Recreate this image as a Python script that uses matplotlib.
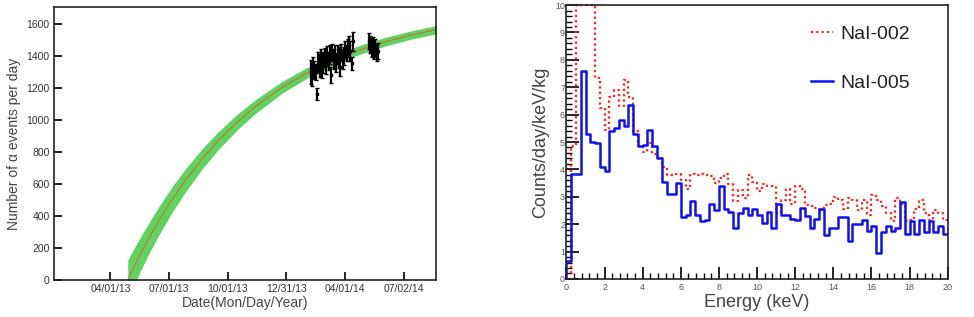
##
## === DEPENDENCIES
##

import matplotlib
matplotlib.use("Agg")
import matplotlib.pyplot as plt
import numpy
from matplotlib.ticker import MultipleLocator

##
## === DATA
##

## left panel: growth curve (days after start date) with its uncertainty band
CURVE_START = numpy.datetime64("2013-04-28")
CURVE_DAYS = [0, 10, 20, 35, 50, 70, 90, 115, 140, 170, 200, 240, 280, 320, 360, 400, 440, 482]
CURVE_VALUES = [0, 84, 164, 276, 380, 508, 623, 752, 866, 985, 1087, 1202, 1296, 1373, 1436, 1487, 1529, 1565]
BAND_HALF_WIDTH = [125, 115, 105, 95, 88, 80, 72, 63, 56, 49, 43, 37, 33, 30, 28, 27, 26, 26]

## left panel: measured alpha rates
POINT_DATES = [
    "2014-02-07", "2014-02-09", "2014-02-11", "2014-02-13", "2014-02-15", "2014-02-17",
    "2014-02-19", "2014-02-21", "2014-02-23", "2014-02-25", "2014-02-27", "2014-03-01",
    "2014-03-03", "2014-03-05", "2014-03-07", "2014-03-09", "2014-03-11", "2014-03-13",
    "2014-03-15", "2014-03-17", "2014-03-19", "2014-03-21", "2014-03-23", "2014-03-25",
    "2014-03-27", "2014-03-29", "2014-03-31", "2014-04-02", "2014-04-04", "2014-04-06",
    "2014-04-08", "2014-04-10", "2014-04-12", "2014-04-14",
    "2014-05-09", "2014-05-11", "2014-05-13", "2014-05-15", "2014-05-17", "2014-05-19",
    "2014-05-21", "2014-05-23",
]
POINT_VALUES = [
    1300, 1280, 1330, 1310, 1300, 1160, 1360, 1340, 1380, 1320, 1360, 1390,
    1340, 1400, 1370, 1410, 1280, 1420, 1380, 1400, 1360, 1410, 1390, 1330,
    1420, 1380, 1400, 1440, 1420, 1450, 1470, 1430, 1355, 1490,
    1490, 1470, 1450, 1460, 1440, 1450, 1420, 1430,
]
POINT_ERRORS = [
    75, 65, 60, 55, 50, 38, 65, 70, 60, 55, 65, 60,
    55, 60, 55, 60, 50, 55, 60, 65, 60, 60, 65, 55,
    55, 60, 55, 55, 50, 55, 55, 60, 40, 60,
    50, 55, 60, 55, 60, 55, 55, 50,
]
DATE_TICKS = ["2013-04-01", "2013-07-01", "2013-10-01", "2013-12-31", "2014-04-01", "2014-07-02"]
DATE_LABELS = ["04/01/13", "07/01/13", "10/01/13", "12/31/13", "04/01/14", "07/02/14"]

## right panel: energy spectra, 0.25 keV bins from 0 to 20 keV
NAI_002 = [
    0.2, 4.85, 13.0, 14.0, 12.5, 11.5, 7.35, 6.25, 5.45, 6.65,
    6.9, 6.3, 7.25, 6.65, 5.4, 4.85, 4.65, 4.95, 4.55, 4.45,
    4.1, 3.8, 3.8, 3.85, 3.6, 3.3, 3.85, 3.8, 3.85, 3.8,
    3.75, 3.5, 3.7, 3.85, 3.45, 2.85, 3.25, 2.95, 3.8, 3.55,
    3.2, 3.45, 3.4, 3.38, 2.4, 2.9, 3.3, 2.75, 3.38, 3.3,
    2.7, 2.65, 2.6, 2.55, 2.7, 2.75, 3.0, 2.9, 2.55, 2.95,
    2.9, 2.5, 2.9, 2.35, 3.05, 2.9, 2.65, 2.4, 2.1, 2.95,
    2.75, 2.1, 2.15, 2.55, 2.9, 2.4, 2.15, 2.5, 2.4, 2.15,
]
NAI_005 = [
    0.65, 3.85, 3.85, 7.6, 5.3, 5.0, 4.95, 4.1, 3.95, 5.4,
    5.5, 5.8, 5.6, 6.35, 5.3, 4.85, 4.9, 5.45, 4.85, 4.4,
    3.55, 3.1, 3.1, 3.5, 2.25, 2.35, 2.85, 2.35, 2.1, 2.15,
    2.75, 2.5, 3.4, 2.55, 2.45, 1.85, 2.4, 2.6, 2.35, 2.55,
    2.35, 2.05, 2.45, 1.85, 2.75, 2.35, 2.35, 2.2, 2.15, 2.6,
    2.3, 1.85, 2.2, 2.55, 1.6, 1.85, 1.85, 2.25, 2.25, 1.4,
    2.0, 2.0, 2.15, 1.75, 1.95, 0.95, 1.7, 1.95, 1.75, 1.85,
    2.8, 1.65, 2.1, 1.65, 2.15, 1.7, 2.1, 1.7, 1.95, 1.65,
]
E_MIN, E_MAX, E_BIN = 0.0, 20.0, 0.25

##
## === STYLE
##

FONT = ["Liberation Sans", "DejaVu Sans"]
TEXT_GREY = "#333333"


def style_frame(ax) -> None:
    for spine in ax.spines.values():
        spine.set_linewidth(1.2)
        spine.set_color("#222222")


##
## === MAIN
##


def main() -> None:
    plt.rcParams["font.family"] = FONT
    fig = plt.figure(figsize=(9.74, 3.17), dpi=100)

    ## ---- left panel
    ax1 = fig.add_axes([0.0554, 0.1167, 0.392, 0.861])
    curve_dates = CURVE_START + numpy.array(CURVE_DAYS).astype("timedelta64[D]")
    curve = numpy.array(CURVE_VALUES, dtype=float)
    half = numpy.array(BAND_HALF_WIDTH, dtype=float)
    ax1.fill_between(curve_dates, curve - half, curve + half, color="#5fd35f", lw=0, zorder=1)
    ax1.plot(curve_dates, curve, color="#c8743c", lw=0.9, zorder=2)
    ax1.errorbar(
        numpy.array(POINT_DATES, dtype="datetime64[D]"),
        POINT_VALUES,
        yerr=POINT_ERRORS,
        fmt="s",
        ms=1.6,
        color="black",
        elinewidth=1.6,
        capsize=1.2,
        capthick=1.0,
        zorder=3,
    )
    ax1.set_xlim(numpy.datetime64("2013-01-03"), numpy.datetime64("2014-08-21"))
    ax1.set_ylim(0, 1705)
    ax1.set_xticks(numpy.array(DATE_TICKS, dtype="datetime64[D]"))
    ax1.set_xticklabels(DATE_LABELS)
    ax1.yaxis.set_major_locator(MultipleLocator(200))
    ax1.tick_params(direction="in", length=6, width=1.2, labelsize=7.5,
                    labelcolor=TEXT_GREY, pad=3)
    ax1.set_xlabel("Date(Mon/Day/Year)", fontsize=10, color="#444444", labelpad=1)
    ax1.set_ylabel("Number of \u03b1 events per day", fontsize=10, color="#444444", labelpad=4)
    style_frame(ax1)

    ## ---- right panel
    ax2 = fig.add_axes([0.5816, 0.12, 0.3914, 0.864])
    edges = numpy.arange(E_MIN, E_MAX + E_BIN / 2, E_BIN)
    y_top = 10.0
    red = numpy.minimum(numpy.array(NAI_002), y_top)
    blue = numpy.array(NAI_005)
    ax2.step(numpy.r_[edges[0], edges], numpy.r_[0, red, red[-1]], where="post",
             color="#ff2020", lw=1.6, ls=(0, (1, 1.4)), label="NaI-002", clip_on=False)
    ax2.step(numpy.r_[edges[0], edges], numpy.r_[0, blue, blue[-1]], where="post",
             color="#1010f0", lw=1.8, label="NaI-005")
    ax2.set_xlim(E_MIN, E_MAX)
    ax2.set_ylim(0, y_top)
    ax2.xaxis.set_major_locator(MultipleLocator(2))
    ax2.xaxis.set_minor_locator(MultipleLocator(0.4))
    ax2.yaxis.set_major_locator(MultipleLocator(1))
    ax2.yaxis.set_minor_locator(MultipleLocator(0.2))
    ax2.tick_params(which="major", direction="in", length=9, width=1.2,
                    labelsize=6.5, labelcolor="#555555")
    ax2.tick_params(which="minor", direction="in", length=4.5, width=1.0)
    ax2.tick_params(axis="y", pad=1)
    ax2.tick_params(axis="x", pad=3)
    ax2.set_xlabel("Energy (keV)", fontsize=13, color="#444444", labelpad=1.5)
    ax2.set_ylabel("Counts/day/keV/kg", fontsize=13, color="#444444", labelpad=4)
    leg = ax2.legend(
        loc="upper left",
        bbox_to_anchor=(0.595, 0.99),
        frameon=False,
        fontsize=14,
        handlelength=1.15,
        handletextpad=0.35,
        labelspacing=1.6,
    )
    for text in leg.get_texts():
        text.set_color("#222222")
    style_frame(ax2)

    fig.savefig("out.png", dpi=100)


if __name__ == "__main__":
    main()
